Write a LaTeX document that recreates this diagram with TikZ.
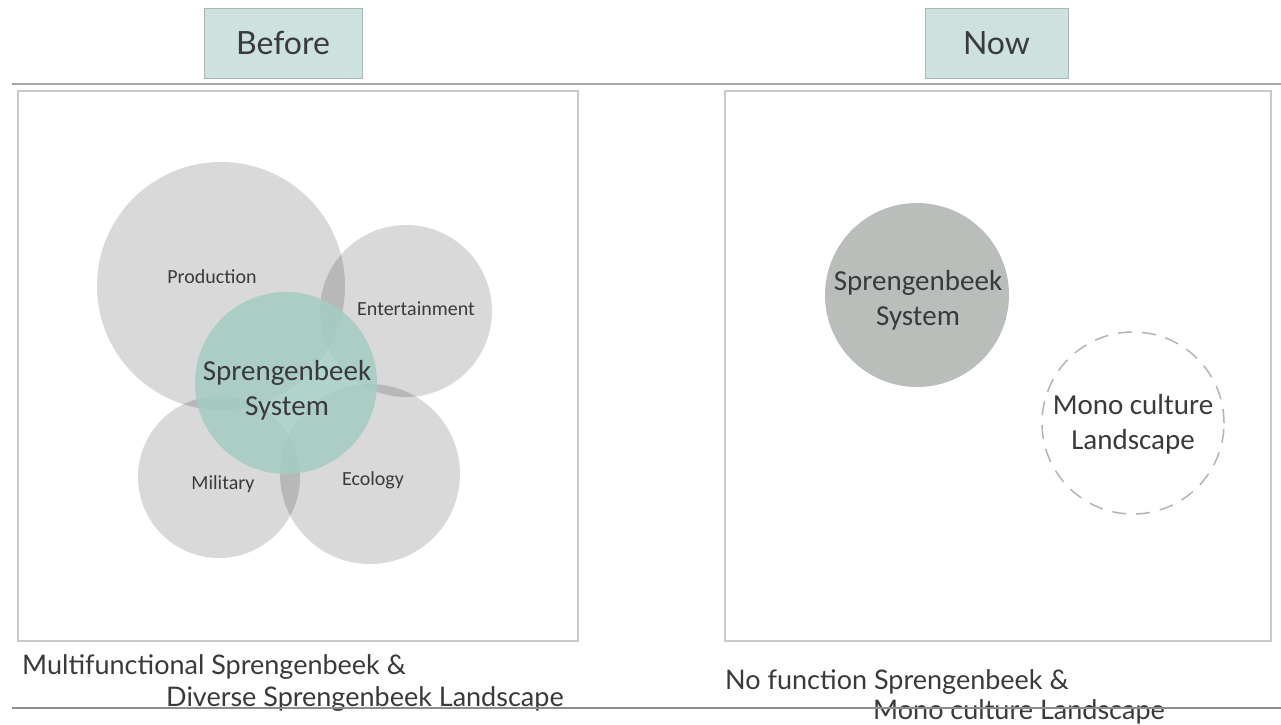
\documentclass[tikz,border=0pt]{standalone}
\usepackage{fontspec}
\setmainfont{Lato}
\newfontfamily\calfont{Carlito}
\usepackage{tikz}

\definecolor{tabfill}{HTML}{CDE1DE}
\definecolor{tabline}{HTML}{A9B8B6}
\definecolor{framegray}{HTML}{C9C9C9}
\definecolor{rulegray}{HTML}{A6A6A6}
\definecolor{basegray}{HTML}{8E8E8E}
\definecolor{systeal}{HTML}{A3CCC3}
\definecolor{sysgray}{HTML}{B9BEBB}
\definecolor{dashgray}{HTML}{B4B4B4}
\definecolor{inkgray}{HTML}{3A3A3A}

\tikzset{
	tab/.style={draw=tabline, fill=tabfill, line width=0.8pt, inner sep=0pt,
		text=inkgray, font=\fontsize{32}{36}\selectfont},
	frame/.style={draw=framegray, line width=2pt},
	bubble/.style={circle, fill=black, fill opacity=0.15, inner sep=0pt},
	bubblelbl/.style={text=inkgray, font=\calfont\fontsize{20}{24}\selectfont},
	syslbl/.style={text=inkgray, align=center, font=\calfont\fontsize{29}{35}\selectfont},
	caption/.style={anchor=base west, text=inkgray, inner sep=0pt,
		font=\fontsize{27}{30}\selectfont},
}

\begin{document}
\begin{tikzpicture}[x=1pt, y=-1pt]
			%%%%% START %%%%%
			\useasboundingbox[fill=white] (0, 0) rectangle (1281, 724);
			
			\node[tab, minimum width=158pt, minimum height=70pt] (before) at (283, 43) {Before};
			\node[tab, minimum width=143pt, minimum height=70pt] (now) at (996.5, 43) {Now};
			
			\draw[rulegray, line width=2pt] (12, 84) -- (1281, 84);
			
			\draw[frame] (18, 91) rectangle (578, 641);
			\draw[frame] (725, 91) rectangle (1271, 641);
			
			% five circles of the old system
			\node[bubble, minimum size=248pt] (prod) at (221, 286) {};
			\node[bubble, minimum size=172pt] (ent) at (406, 311) {};
			\node[bubble, minimum size=162pt] (mil) at (219, 477) {};
			\node[bubble, minimum size=180pt] (eco) at (370, 474) {};
			\node[circle, fill=systeal, fill opacity=0.85, inner sep=0pt, minimum size=182pt] (sys) at (286, 383) {};
			
			\node[bubblelbl] (prodlbl) at (212, 277) {Production};
			\node[bubblelbl] (entlbl) at (416, 309) {Entertainment};
			\node[bubblelbl] (millbl) at (223, 484) {Military};
			\node[bubblelbl] (ecolbl) at (373, 480) {Ecology};
			\node[syslbl] (syslbl) at (287, 390) {Sprengenbeek\\System};
			
			% what is left now
			\node[circle, fill=sysgray, inner sep=0pt, minimum size=184pt] (sysnow) at (917, 295) {};
			\node[circle, draw=dashgray, line width=1.5pt, dash pattern=on 14pt off 10pt, inner sep=0pt, minimum size=182pt] (mono) at (1133, 423) {};
			\node[syslbl] (sysnowlbl) at (918, 300) {Sprengenbeek\\System};
			\node[syslbl] (monolbl) at (1133, 424) {Mono culture\\Landscape};
			
			\node[caption] (leftcap) at (22, 674) {Multifunctional Sprengenbeek \&};
			\node[caption] (leftcap2) at (166, 706) {Diverse Sprengenbeek Landscape};
			\node[caption] (rightcap) at (725, 689) {No function Sprengenbeek \&};
			\node[caption] (rightcap2) at (873, 719) {Mono culture Landscape};
			
			\draw[basegray, line width=2pt] (12, 708) -- (1281, 708);
			%%%%% END %%%%%
\end{tikzpicture}
\end{document}
